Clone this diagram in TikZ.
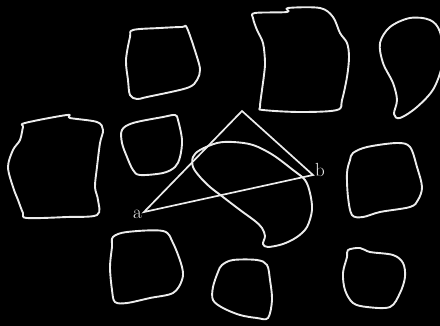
\documentclass[tikz,border=0pt]{standalone}
\usepackage{tikz}
\usepackage{xcolor}
\usetikzlibrary{positioning}
\definecolor{night}{HTML}{000000}
\definecolor{chalk}{HTML}{ECECEC}
\tikzset{
  blob/.style={draw=chalk,line width=1.9pt,line join=round,smooth cycle,tension=0.55},
  chord/.style={draw=chalk,line width=1.7pt,line join=miter},
  lbl/.style={text=chalk,inner sep=0pt,font=\fontsize{19}{22}\selectfont}
}

\begin{document}
\begin{tikzpicture}[x=1pt,y=-1pt]
    \fill[night] (0,0) rectangle (440,326);
    \useasboundingbox (0,0) rectangle (440,326);
    % islands
    \draw[blob] plot coordinates {(133,30) (160,28) (182,27) (187,28) (197,57) (200,70) (197,80) (187,88) (147,97) (137,99) (130,95) (128,80) (126,60) (130,37)};
    \draw[blob] plot coordinates {(255,13) (287,12) (288,8) (320,8) (333,17) (340,33) (347,43) (349,57) (347,77) (342,100) (337,110) (300,112) (263,110) (260,107) (262,90) (264,75) (265,62) (263,43) (257,30) (253,18)};
    \draw[blob] plot coordinates {(390,27) (410,18) (430,20) (440,32) (443,60) (434,88) (417,107) (400,118) (394,114) (397,100) (393,83) (383,63) (380,43)};
    \draw[blob] plot coordinates {(25,123) (67,115) (70,118) (97,122) (103,130) (100,143) (97,167) (95,187) (98,200) (97,215) (67,217) (27,218) (23,213) (18,200) (13,187) (8,167) (13,150) (20,140) (23,127)};
    \draw[blob] plot coordinates {(122,130) (133,123) (163,117) (175,115) (178,120) (182,140) (180,157) (175,167) (163,173) (140,175) (133,170) (127,157) (122,143)};
    \draw[blob] plot coordinates {(353,153) (367,147) (397,143) (410,147) (417,167) (422,187) (418,200) (410,207) (380,212) (363,217) (352,215) (348,197) (347,173) (350,160)};
    \draw[blob] plot coordinates {(113,237) (127,232) (163,231) (173,243) (182,267) (182,280) (173,293) (150,298) (127,303) (115,302) (112,290) (110,267) (112,247)};
    \draw[blob] plot coordinates {(222,265) (233,260) (257,260) (267,265) (270,280) (272,300) (268,318) (257,318) (240,315) (223,308) (213,300) (213,287) (218,272)};
    \draw[blob] plot coordinates {(348,250) (360,248) (370,252) (393,255) (403,263) (405,277) (400,293) (390,307) (367,307) (353,303) (345,290) (343,273) (347,257)};
    % kidney
    \draw[blob] plot coordinates {(193,157) (200,150) (217,143) (233,142) (253,145) (273,155) (293,170) (305,180) (310,193) (312,210) (307,227) (297,237) (283,244) (268,247) (263,244) (265,236) (262,228) (255,221) (240,210) (223,197) (210,187) (200,177) (193,167)};
    % triangle
    \coordinate (a) at (144,212);
    \coordinate (apex) at (242,111);
    \coordinate (b) at (313,175);
    \draw[chord] (a) -- (apex) -- (b) -- cycle;
    \node[lbl,left=2pt of a,yshift=-2pt] (alabel) {a};
    \node[lbl,right=2pt of b,yshift=5pt] (blabel) {b};
\end{tikzpicture}
\end{document}
